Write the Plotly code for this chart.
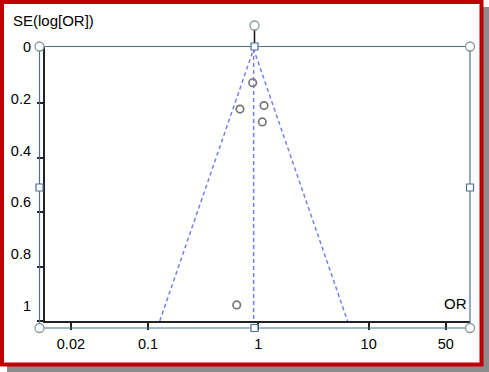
import math
import plotly.graph_objects as go

# ---- data ----
odds_ratio = [0.889, 0.682, 1.127, 1.087, 0.637]
std_err = [0.124, 0.221, 0.208, 0.268, 0.941]
x_tick_vals = [0.02, 0.1, 1, 10, 50]
x_tick_text = ["0.02", "0.1", "1", "10", "50"]
y_tick_vals = [0, 0.2, 0.4, 0.6, 0.8, 1]
y_tick_text = ["0", "0.2", "0.4", "0.6", "0.8", "1"]
se_max = 1.0

# pooled estimate (inverse variance, log scale)
w = [1 / s ** 2 for s in std_err]
pooled = math.exp(sum(wi * math.log(o) for wi, o in zip(w, odds_ratio)) / sum(w))
lo = pooled * math.exp(-1.96 * se_max)
hi = pooled * math.exp(1.96 * se_max)

W, H = 489, 372
L, T, R, B = 45, 46, 470, 321
PW, PH = R - L, B - T
y_zero_px = 49          # pixel row of SE = 0
y_scale = (B - y_zero_px) / se_max
lab_zero_px, lab_scale = 47, 259


def px(xp):
    return (xp - L) / PW


def py(yp):
    return (B - yp) / PH


fig = go.Figure()
dash_col = "#7d7df0"
fig.add_trace(go.Scatter(x=[pooled, pooled], y=[0, se_max], mode="lines",
                         line=dict(color=dash_col, width=1.5, dash="4px,3px"),
                         hoverinfo="skip", showlegend=False))
fig.add_trace(go.Scatter(x=[lo, pooled, hi], y=[se_max, 0, se_max], mode="lines",
                         line=dict(color=dash_col, width=1.5, dash="4px,3px"),
                         hoverinfo="skip", showlegend=False))
fig.add_trace(go.Scatter(x=odds_ratio, y=std_err, mode="markers",
                         marker=dict(symbol="circle-open", size=7.5, color="#777777",
                                     line=dict(width=1.7, color="#777777")),
                         showlegend=False))
# dummy trace carrying the label axis
fig.add_trace(go.Scatter(x=[1], y=[0.5], yaxis="y2", mode="markers",
                         marker=dict(opacity=0), hoverinfo="skip", showlegend=False))

font = dict(family="Liberation Sans, Arial, sans-serif", size=14.5, color="#000")
axc = "#222222"
fig.update_layout(
    width=W, height=H, autosize=False,
    margin=dict(l=L, r=W - R, t=T, b=H - B, pad=0),
    paper_bgcolor="white", plot_bgcolor="rgba(0,0,0,0)",
    font=font,
    xaxis=dict(type="log", range=[-1.934, 1.919], tickvals=x_tick_vals, ticktext=x_tick_text,
               showline=True, linecolor=axc, linewidth=1.5, ticks="outside", ticklen=7,
               tickwidth=1.5, tickcolor=axc, showgrid=False, zeroline=False,
               ticklabelstandoff=2),
    yaxis=dict(range=[se_max, -(y_zero_px - T) / y_scale], tickvals=y_tick_vals,
               showticklabels=False,
               showline=True, linecolor=axc, linewidth=1.5, ticks="outside", ticklen=6,
               tickwidth=1.5, tickcolor=axc, showgrid=False, zeroline=False),
    yaxis2=dict(overlaying="y", side="left",
                range=[(B - lab_zero_px) / lab_scale, (T - lab_zero_px) / lab_scale],
                tickvals=y_tick_vals, ticktext=y_tick_text, showline=False, ticks="",
                showgrid=False, zeroline=False, ticklabelstandoff=13),
)

shapes = []
# shadow and red frame
shapes.append(dict(type="rect", xref="paper", yref="paper", layer="below",
                   x0=px(7), x1=px(489), y0=py(7), y1=py(372),
                   fillcolor="#8c8c8c", line=dict(width=0)))
shapes.append(dict(type="rect", xref="paper", yref="paper", layer="below",
                   x0=px(2), x1=px(481.5), y0=py(2), y1=py(364.5),
                   fillcolor="white", line=dict(color="#c00000", width=4)))
# selection frame
sel = "#4d6f95"
fx0, fx1, fy0, fy1 = 39.5, 470, 46.5, 328
shapes.append(dict(type="rect", xref="paper", yref="paper", layer="above",
                   x0=px(fx0), x1=px(fx1), y0=py(fy0), y1=py(fy1),
                   line=dict(color=sel, width=1.2)))
mx = 254.5
# rotation handle
shapes.append(dict(type="line", xref="paper", yref="paper", layer="above",
                   x0=px(mx), x1=px(mx), y0=py(30), y1=py(43),
                   line=dict(color="#111", width=1.5)))
hc = "#8a9a96"
r = 4.5
for cx, cy in [(mx, 25.5), (fx0, fy0), (fx1, fy0), (fx0, fy1), (fx1, fy1)]:
    shapes.append(dict(type="circle", xref="paper", yref="paper", layer="above",
                       x0=px(cx - r), x1=px(cx + r), y0=py(cy + r), y1=py(cy - r),
                       fillcolor="white", line=dict(color=hc, width=1.3)))
s = 3.5
for cx, cy in [(mx, fy0), (mx, fy1), (fx0, 187.5), (fx1, 187.5)]:
    shapes.append(dict(type="rect", xref="paper", yref="paper", layer="above",
                       x0=px(cx - s), x1=px(cx + s), y0=py(cy + s), y1=py(cy - s),
                       fillcolor="white", line=dict(color=sel, width=1.2)))
fig.update_layout(shapes=shapes)

fig.add_annotation(text="SE(log[OR])", xref="paper", yref="paper", x=px(11),
                   y=py(20.5), xanchor="left", yanchor="middle", showarrow=False,
                   font=dict(family=font["family"], size=15, color="#000"))
fig.add_annotation(text="OR", xref="paper", yref="paper", x=px(469),
                   y=py(303), xanchor="right", yanchor="middle", showarrow=False,
                   font=dict(family=font["family"], size=15, color="#000"))

fig.write_html("out.html", config={"displayModeBar": False})
